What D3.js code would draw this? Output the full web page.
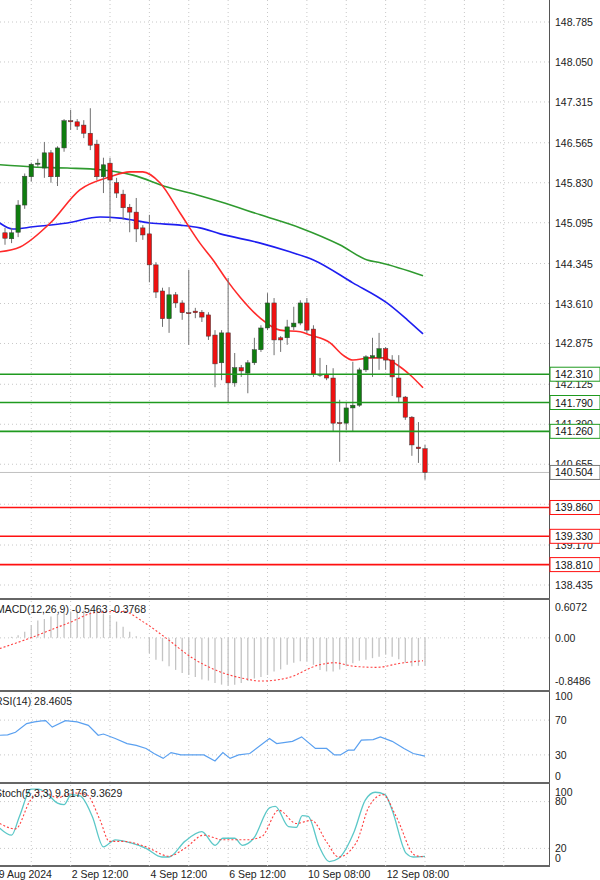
<!DOCTYPE html>
<html><head><meta charset="utf-8">
<script src="https://cdn.jsdelivr.net/npm/d3@7"></script>
<style>body{margin:0;background:#fff}svg{display:block;font-family:"Liberation Sans",Arial,sans-serif}</style>
</head><body><svg id="c" width="600" height="880"></svg>
<script>
// OHLC
const opens=[144.91,144.80,144.92,145.42,145.94,146.17,146.10,146.38,145.94,146.47,146.97,146.95,146.89,146.74,146.54,145.94,146.19,145.83,145.62,145.38,145.29,145.00,144.89,144.32,143.84,143.33,143.77,143.62,143.44,143.47,143.45,143.40,143.03,142.52,143.07,142.15,142.43,142.33,142.52,142.76,143.16,143.62,142.98,142.98,143.18,143.25,143.62,143.14,142.31,142.31,142.24,141.42,141.41,141.69,141.74,142.39,142.61,142.61,142.78,142.57,142.24,141.89,141.52,140.97,140.94];
const highs=[145.00,145.00,145.51,146.00,146.20,146.27,146.58,146.43,146.50,147.00,147.17,147.00,146.98,147.20,146.62,146.29,146.29,145.92,145.70,145.44,145.55,145.05,145.24,144.37,143.90,143.91,143.82,143.67,144.23,143.53,143.49,143.45,143.12,143.12,144.08,142.70,142.48,142.57,142.98,143.21,143.80,143.71,143.01,143.31,143.55,143.67,143.71,143.21,142.61,142.48,142.42,141.84,141.80,142.54,142.43,142.66,142.98,143.07,142.81,142.66,142.66,141.91,141.54,141.43,141.01];
const lows=[144.69,144.72,144.83,145.35,145.85,146.12,145.92,145.83,145.77,146.40,146.80,146.80,146.65,146.43,145.88,145.64,145.11,145.55,145.15,144.92,144.74,144.78,144.00,143.71,143.18,143.07,143.53,143.31,142.85,143.34,143.27,142.94,142.07,142.20,141.78,142.08,142.26,141.96,142.48,142.72,143.12,142.66,142.72,142.85,143.12,143.21,143.07,142.26,142.26,142.20,141.25,140.70,141.28,141.25,141.71,142.35,142.26,142.39,142.39,141.91,141.78,141.47,140.81,140.68,140.37];
const closes=[144.81,144.91,145.42,145.95,146.17,146.19,146.38,145.94,146.47,146.97,146.95,146.87,146.74,146.52,145.94,146.16,145.88,145.64,145.37,145.29,144.98,144.87,144.32,143.82,143.33,143.77,143.62,143.44,143.43,143.44,143.36,143.01,142.50,143.07,142.15,142.43,142.37,142.52,142.76,143.16,143.62,142.94,142.94,143.18,143.25,143.62,143.12,142.30,142.31,142.24,141.41,141.41,141.69,141.74,142.39,142.63,142.65,142.78,142.57,142.26,141.89,141.52,141.01,140.94,140.504];
// moving averages [candle index, price]
const maRed=[[-0.8,144.56],[2.3,144.65],[6.9,145.09],[11.4,145.70],[16,145.94],[19,146.03],[21,146.03],[23.6,145.83],[26.7,145.27],[29.7,144.72],[31.7,144.41],[33.8,144.04],[35.8,143.73],[38.9,143.34],[41.9,143.12],[45,143.09],[46.5,143.03],[49.5,142.89],[51.5,142.66],[53,142.57],[55.6,142.61],[57.6,142.61],[59.8,142.48],[61.7,142.30],[63.7,142.06]];
const maBlue=[[-0.8,145.09],[1.2,144.98],[4.3,145.02],[9.5,145.09],[14.5,145.20],[17.5,145.18],[22.1,145.09],[26.7,145.05],[29.7,145.00],[32.8,144.89],[38.9,144.72],[43.4,144.56],[47,144.41],[53,143.99],[58.2,143.62],[61.3,143.31],[63.7,143.05]];
const maGreen=[[-0.8,146.16],[4.3,146.12],[9.5,146.10],[14.5,146.07],[19.5,145.97],[24.7,145.75],[29.7,145.59],[32.8,145.48],[38.9,145.24],[45,145.00],[51,144.69],[55.2,144.41],[57.2,144.36],[63.7,144.12]];
const supportLevels=[142.310,141.790,141.260];
const resistLevels=[139.860,139.330,138.810];
const lastPrice=140.504;
const priceTicks=[148.785,148.050,147.315,146.565,145.830,145.095,144.345,143.610,142.875,142.125,141.390,140.655,139.920,139.170,138.435];
const priceTickLabels=["148.785","148.050","147.315","146.565","145.830","145.095","144.345","143.610","142.875","142.125","141.390","140.655","","139.170","138.435"];
// MACD
const macdHist=[0,0.02,0.05,0.12,0.25,0.34,0.37,0.42,0.47,0.50,0.52,0.54,0.54,0.52,0.52,0.48,0.45,0.32,0.22,0.12,0.03,0,-0.30,-0.43,-0.46,-0.56,-0.63,-0.69,-0.73,-0.77,-0.82,-0.84,-0.89,-0.92,-0.94,-0.92,-0.89,-0.85,-0.80,-0.77,-0.73,-0.66,-0.62,-0.53,-0.49,-0.46,-0.46,-0.53,-0.63,-0.66,-0.66,-0.62,-0.56,-0.50,-0.45,-0.43,-0.40,-0.37,-0.33,-0.37,-0.42,-0.49,-0.56,-0.55,-0.55];
const macdSignal=[[-0.8,-0.21],[3.9,0],[9.8,0.30],[13.9,0.50],[18,0.52],[21,0.32],[24.5,0],[28.6,-0.40],[32.6,-0.66],[36.8,-0.81],[39,-0.85],[43,-0.79],[47.9,-0.53],[50.2,-0.49],[53.2,-0.56],[56.7,-0.58],[60.2,-0.50],[63.7,-0.45]];
const rsi=[[-0.8,52.6],[0.4,53],[1.6,56],[3.3,66],[4.5,68],[5.6,69],[6.2,69.4],[7.2,62],[9.2,69.4],[11,68],[12.7,64],[14.2,52.6],[15,54],[16.8,48.8],[18.6,43],[20,41],[21.5,37.4],[22.7,31.6],[24.1,26],[25.3,32.7],[26.8,30],[30.3,30],[32,23],[33.2,32.7],[34.3,26],[35.6,30],[37.3,31.6],[40.3,48.8],[41.4,43],[43.8,45.6],[45.2,50.7],[47.3,37.4],[49,37.4],[50.2,30],[51.1,30],[52.3,35.4],[53.2,35.4],[54.3,46.9],[56.1,47.6],[57.2,50.7],[59,45.6],[60.8,37.4],[62.2,31.6],[64,28.5]];
const stochMain=[[-0.8,46],[1,37],[2.2,61],[4,96],[5.1,96],[6.3,91],[8,78],[9,76],[10.1,89],[11.5,87],[13.3,61],[15,22],[16.8,31],[19.2,27],[21.5,20],[23.9,9],[25,9],[27.4,29],[30,41.5],[32,24],[33.2,33],[35,33],[36.2,24],[37.9,33],[40.3,72],[41.2,74],[43.2,48],[44.4,47],[45.3,62],[46.2,61],[47.9,22],[49.4,3],[50.8,7],[53.2,41.5],[54.9,82],[56.4,92],[57.9,89],[59,69],[61.1,14],[62.2,9],[64,9.8]];
const stochSignal=[[-0.8,52],[1.6,45],[3.9,82],[5.7,93],[8,85],[10.4,91],[12.4,89],[14.5,56],[15.9,29],[18,29],[21.5,22],[25,10],[27.4,20],[30.3,37],[33.2,31],[36.8,31],[39.1,35],[41.7,69],[44.4,52],[46.7,56],[49.1,27],[50.8,9],[53.5,27],[55.5,74],[57.6,89],[59.6,61],[62.5,11],[64,9]];
const dateLabels=[[-2,"29 Aug 2024"],[10,"2 Sep 12:00"],[22,"4 Sep 12:00"],[34,"6 Sep 12:00"],[46,"10 Sep 08:00"],[58,"12 Sep 08:00"]];

const svg=d3.select("#c");
const W=549;
const x=d3.scaleLinear().domain([0,64]).range([5,425]);
const y=d3.scaleLinear().domain([138.435,148.785]).range([585,22]);
const gridIdx=d3.range(-2,80,6);
const dash="1,3";
const grid="#c8c8c8";

function panelGrid(g,top,bot){
  g.selectAll(null).data(gridIdx).join("line").attr("x1",d=>x(d)).attr("x2",d=>x(d)).attr("y1",top).attr("y2",bot)
   .attr("stroke",grid).attr("stroke-dasharray",dash);
}
// main panel
const main=svg.append("g");
main.append("defs").append("clipPath").attr("id","cm").append("rect").attr("x",0).attr("y",0).attr("width",W).attr("height",598);
panelGrid(main,0,598);
main.selectAll(null).data(priceTicks).join("line").attr("x1",0).attr("x2",W).attr("y1",d=>y(d)).attr("y2",d=>y(d)).attr("stroke",grid).attr("stroke-dasharray",dash);
const cm=main.append("g").attr("clip-path","url(#cm)");
cm.append("line").attr("x1",0).attr("x2",W).attr("y1",y(lastPrice)).attr("y2",y(lastPrice)).attr("stroke","#c0c0c0");
const line=d3.line().x(d=>x(d[0])).y(d=>y(d[1])).curve(d3.curveMonotoneX);
[[maGreen,"#2f9a2f"],[maBlue,"#1e1ef0"],[maRed,"#ff2a2a"]].forEach(([d,c])=>cm.append("path").attr("d",line(d)).attr("fill","none").attr("stroke",c).attr("stroke-width",1.6));
const idx=d3.range(opens.length);
cm.selectAll(null).data(idx).join("line").attr("x1",i=>x(i)).attr("x2",i=>x(i)).attr("y1",i=>y(highs[i])).attr("y2",i=>y(lows[i])).attr("stroke","#707070");
cm.selectAll(null).data(idx).join("rect").attr("x",i=>x(i)-2.2).attr("width",4.4)
  .attr("y",i=>y(Math.max(opens[i],closes[i]))).attr("height",i=>Math.max(1,Math.abs(y(opens[i])-y(closes[i]))))
  .attr("fill",i=>closes[i]>=opens[i]?"#0f7d0f":"#ee1111").attr("stroke","#3a3a3a").attr("stroke-width",0.5);
supportLevels.forEach(v=>main.append("line").attr("x1",0).attr("x2",600).attr("y1",y(v)).attr("y2",y(v)).attr("stroke","#1f9a1f").attr("stroke-width",1.6));
resistLevels.forEach(v=>main.append("line").attr("x1",0).attr("x2",600).attr("y1",y(v)).attr("y2",y(v)).attr("stroke","#ff1010").attr("stroke-width",1.6));
// axis
svg.append("line").attr("x1",W+0.5).attr("x2",W+0.5).attr("y1",0).attr("y2",866).attr("stroke","#555");
const ax=svg.append("g").attr("font-size",10.5).attr("fill","#222");
priceTicks.forEach((v,i)=>{ if(priceTickLabels[i]) ax.append("text").attr("x",555).attr("y",y(v)+4).text(priceTickLabels[i]);});
function tag(v,col,bold){
  const g=svg.append("g");
  g.append("rect").attr("x",W+1).attr("y",y(v)-7).attr("width",50).attr("height",14).attr("fill","#fff").attr("stroke",col).attr("stroke-width",1);
  g.append("text").attr("x",555).attr("y",y(v)+4).attr("font-size",10.5).attr("fill","#111").text(v.toFixed(3));
}
supportLevels.forEach(v=>tag(v,"#1f9a1f"));
resistLevels.forEach(v=>tag(v,"#ff1010"));
tag(lastPrice,"#777");

// separators
[599,691,783,866].forEach(v=>svg.append("line").attr("x1",0).attr("x2",W+1).attr("y1",v).attr("y2",v).attr("stroke","#666").attr("stroke-width",2));

// MACD
const ym=d3.scaleLinear().domain([-0.8486,0.6072]).range([681,607]);
const gm=svg.append("g");
panelGrid(gm,601,690);
gm.append("line").attr("x1",0).attr("x2",W).attr("y1",ym(0)).attr("y2",ym(0)).attr("stroke",grid).attr("stroke-dasharray",dash);
gm.selectAll(null).data(macdHist).join("line").attr("x1",(d,i)=>x(i)).attr("x2",(d,i)=>x(i)).attr("y1",ym(0)).attr("y2",d=>ym(d)).attr("stroke","#c4c4c4").attr("stroke-width",1.3);
gm.append("path").attr("d",d3.line().x(d=>x(d[0])).y(d=>ym(d[1])).curve(d3.curveMonotoneX)(macdSignal)).attr("fill","none").attr("stroke","#ff4040").attr("stroke-dasharray","2,2").attr("stroke-width",1.1);
[[0.6072,"0.6072"],[0,"0.00"],[-0.8486,"-0.8486"]].forEach(([v,t])=>ax.append("text").attr("x",555).attr("y",ym(v)+4).text(t));
svg.append("text").attr("x",-4).attr("y",613).attr("font-size",10.5).attr("fill","#222").text("MACD(12,26,9) -0.5463 -0.3768");

// RSI
const yr=d3.scaleLinear().domain([0,100]).range([781,694]);
const gr=svg.append("g");
panelGrid(gr,693,782);
[70,30].forEach(v=>gr.append("line").attr("x1",0).attr("x2",W).attr("y1",yr(v)).attr("y2",yr(v)).attr("stroke",grid).attr("stroke-dasharray",dash));
gr.append("path").attr("d",d3.line().x(d=>x(d[0])).y(d=>yr(d[1]))(rsi)).attr("fill","none").attr("stroke","#5aa0f0").attr("stroke-width",1.2);
[[100,700],[70,724],[30,759],[0,780]].forEach(([v,p])=>ax.append("text").attr("x",555).attr("y",p).text(v));
svg.append("text").attr("x",-5).attr("y",705).attr("font-size",10.5).attr("fill","#222").text("RSI(14) 28.4605");

// Stoch
const ys=d3.scaleLinear().domain([0,100]).range([864,786]);
const gs=svg.append("g");
panelGrid(gs,785,866);
[80,20].forEach(v=>gs.append("line").attr("x1",0).attr("x2",W).attr("y1",ys(v)).attr("y2",ys(v)).attr("stroke",grid).attr("stroke-dasharray",dash));
gs.append("path").attr("d",d3.line().x(d=>x(d[0])).y(d=>ys(d[1])).curve(d3.curveMonotoneX)(stochMain)).attr("fill","none").attr("stroke","#5cc8c8").attr("stroke-width",1.3);
gs.append("path").attr("d",d3.line().x(d=>x(d[0])).y(d=>ys(d[1])).curve(d3.curveMonotoneX)(stochSignal)).attr("fill","none").attr("stroke","#ff4040").attr("stroke-dasharray","2,2").attr("stroke-width",1.1);
[[100,796],[80,805],[20,852],[0,862]].forEach(([v,p])=>ax.append("text").attr("x",555).attr("y",p).text(v));
svg.append("text").attr("x",-5).attr("y",797).attr("font-size",10.5).attr("fill","#222").text("Stoch(5,3,3) 9.8176 9.3629");

// date labels
dateLabels.forEach(([i,t])=>svg.append("text").attr("x",x(i)+1).attr("y",878).attr("font-size",10.5).attr("fill","#222").text(t));
</script></body></html>
